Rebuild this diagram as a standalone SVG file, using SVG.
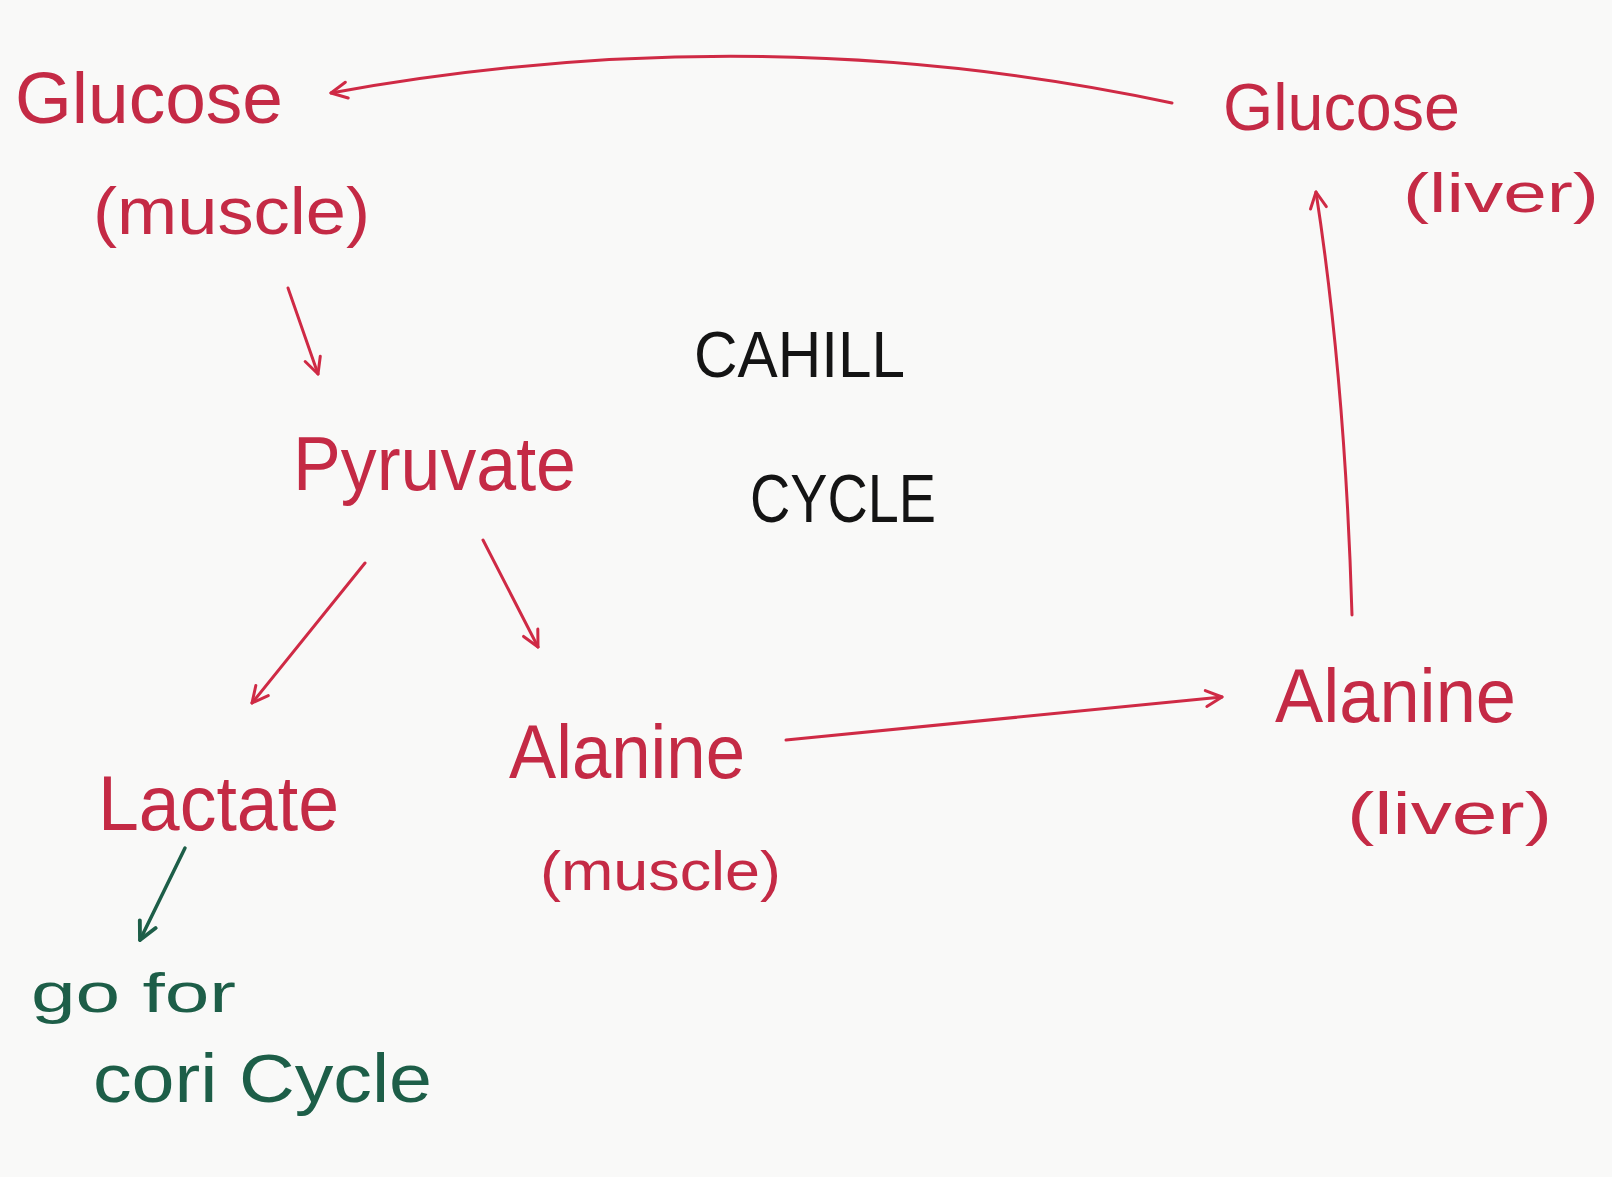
<svg xmlns="http://www.w3.org/2000/svg" width="1612" height="1177" viewBox="0 0 1612 1177">
<style>
.t{font-family:"Liberation Sans","DejaVu Sans",sans-serif;}
.r{fill:#c42a45;}
.k{fill:#141414;}
.g{fill:#1d5e48;}
.c{fill:none;stroke:#cf2a45;stroke-width:3;stroke-linecap:round;}
.cg{fill:none;stroke:#1d5e48;stroke-width:3.5;stroke-linecap:round;}
</style>
<defs>
<marker id="ar" viewBox="0 0 20 20" refX="18" refY="10" markerWidth="20" markerHeight="20" markerUnits="userSpaceOnUse" orient="auto">
<path d="M2,2 L18,10 L2,18" fill="none" stroke="#cf2a45" stroke-width="3" stroke-linecap="round" stroke-linejoin="round"/>
</marker>
<marker id="ag" viewBox="0 0 20 20" refX="18" refY="10" markerWidth="22" markerHeight="22" markerUnits="userSpaceOnUse" orient="auto">
<path d="M2,2 L18,10 L2,18" fill="none" stroke="#1d5e48" stroke-width="3.5" stroke-linecap="round" stroke-linejoin="round"/>
</marker>
</defs>
<rect width="1612" height="1177" fill="#f9f9f8"/>
<g id="glucose-muscle" class="t r">
<text x="15" y="123" font-size="72" textLength="268" lengthAdjust="spacingAndGlyphs">Glucose</text>
<text x="93" y="234" font-size="66" textLength="277" lengthAdjust="spacingAndGlyphs">(muscle)</text>
</g>
<g id="glucose-liver" class="t r">
<text x="1223" y="130" font-size="66" textLength="237" lengthAdjust="spacingAndGlyphs">Glucose</text>
<text x="1403" y="212" font-size="56" textLength="196" lengthAdjust="spacingAndGlyphs">(liver)</text>
</g>
<g id="pyruvate" class="t r">
<text x="293" y="490" font-size="76" textLength="283" lengthAdjust="spacingAndGlyphs">Pyruvate</text>
</g>
<g id="title" class="t k">
<text x="694" y="377" font-size="64" textLength="211" lengthAdjust="spacingAndGlyphs">CAHILL</text>
<text x="750" y="522" font-size="68" textLength="186" lengthAdjust="spacingAndGlyphs">CYCLE</text>
</g>
<g id="lactate" class="t r">
<text x="98" y="830" font-size="78" textLength="241" lengthAdjust="spacingAndGlyphs">Lactate</text>
</g>
<g id="alanine-muscle" class="t r">
<text x="509" y="778" font-size="76" textLength="236" lengthAdjust="spacingAndGlyphs">Alanine</text>
<text x="540" y="890" font-size="56" textLength="241" lengthAdjust="spacingAndGlyphs">(muscle)</text>
</g>
<g id="alanine-liver" class="t r">
<text x="1275" y="722" font-size="76" textLength="241" lengthAdjust="spacingAndGlyphs">Alanine</text>
<text x="1347" y="834" font-size="60" textLength="205" lengthAdjust="spacingAndGlyphs">(liver)</text>
</g>
<g id="cori" class="t g">
<text x="31" y="1012" font-size="56" textLength="205" lengthAdjust="spacingAndGlyphs">go for</text>
<text x="93" y="1102" font-size="68" textLength="339" lengthAdjust="spacingAndGlyphs">cori Cycle</text>
</g>
<g id="connectors">
<path class="c" d="M1172,103 Q760,15 331,93" marker-end="url(#ar)"/>
<path class="c" d="M1352,615 Q1345,380 1316,192" marker-end="url(#ar)"/>
<path class="c" d="M288,288 L318,374" marker-end="url(#ar)"/>
<path class="c" d="M365,563 L252,703" marker-end="url(#ar)"/>
<path class="c" d="M483,540 L538,647" marker-end="url(#ar)"/>
<path class="c" d="M786,740 L1222,697" marker-end="url(#ar)"/>
<path class="cg" d="M185,848 L140,940" marker-end="url(#ag)"/>
</g>
</svg>
